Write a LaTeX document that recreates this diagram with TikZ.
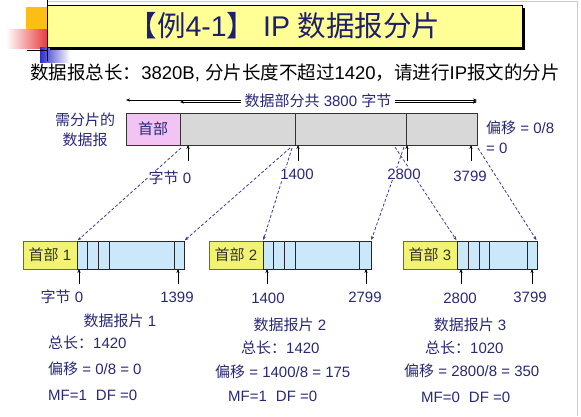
\documentclass[tikz,border=0pt]{standalone}
\usepackage{fontspec}
\setmainfont{Liberation Sans}
\newfontfamily\cjkfont{Noto Sans CJK SC}
\newcommand\zh[1]{{\cjkfont #1}}
\usepackage{tikz}
\usetikzlibrary{positioning,arrows.meta,shadows}
\definecolor{navy}{RGB}{40,40,120}
\definecolor{titlenavy}{RGB}{30,30,110}
\definecolor{titleyel}{RGB}{255,255,150}
\definecolor{hdrpink}{RGB}{243,196,243}
\definecolor{datagrey}{RGB}{216,216,216}
\definecolor{fragyel}{RGB}{242,242,115}
\definecolor{fragblue}{RGB}{202,232,250}
\definecolor{dashcol}{RGB}{60,60,145}
\definecolor{decoorange}{RGB}{252,190,20}
\definecolor{decored}{RGB}{232,60,60}
\definecolor{decoblue}{RGB}{45,45,200}
\tikzset{
  >={Stealth[length=4pt,width=3.2pt]},
  lbl/.style={font=\fontsize{15}{20}\selectfont,text=navy,inner sep=1pt},
  numlbl/.style={lbl,fill=white},
  titlebox/.style={draw=black,line width=0.8pt,fill=titleyel,minimum width=475pt,
    minimum height=42pt,inner sep=0pt,text=titlenavy,
    font=\fontsize{28.5}{30}\selectfont,
    drop shadow={shadow xshift=3pt,shadow yshift=-3pt,fill=black,opacity=1}},
  hdrbox/.style={draw=black!80,line width=0.6pt,minimum height=32pt,minimum width=54pt,
    inner sep=0pt,outer sep=0pt,font=\fontsize{15}{18}\selectfont,text=navy},
  seg/.style={draw=black!80,line width=0.6pt,fill=datagrey,minimum height=32pt,
    inner sep=0pt,outer sep=0pt,minimum width=#1},
  fhdr/.style={draw=black!60,line width=0.6pt,fill=fragyel,minimum height=28pt,
    minimum width=54pt,inner sep=0pt,outer sep=0pt,font=\fontsize{15}{18}\selectfont,
    text=black!80},
  cell/.style={draw=black!85,line width=0.6pt,fill=fragblue,minimum height=28pt,
    inner sep=0pt,outer sep=0pt,minimum width=#1},
  uparr/.style={->,line width=0.6pt},
  dim/.style={<->,line width=0.6pt},
  spread/.style={->,dashcol,line width=0.8pt,dash pattern=on 3pt off 2pt,shorten >=1pt},
}
\newcommand\flaggap{\hspace{9pt}}
\begin{document}
\begin{tikzpicture}[x=1pt,y=-1pt]
  \useasboundingbox (0,0) rectangle (581,416);
  \draw[black!20,line width=0.8pt] (48,1.5) -- (577,1.5) -- (577,416);
  \fill[decoorange] (26,7) rectangle (47,29);
  \shade[left color=white,right color=decored] (6,29) rectangle (47,48);
  \shade[left color=decoblue,right color=white] (40,47) rectangle (70,62);
  \draw[black,line width=0.8pt] (47,0) -- (47,61);
  \draw[black,line width=0.8pt] (27,50) -- (47,50);
  \node (title) [titlebox] at (284.5,26) {\zh{【例}4-1\zh{】} IP \zh{数据报分片}};
  \node (task) [font=\fontsize{18.5}{20}\selectfont] at (295,73)
    {\zh{数据报总长：}3820B, \zh{分片长度不超过}1420\zh{，请进行}IP\zh{报文的分片}};

  \node (hdr) [hdrbox,fill=hdrpink] at (153,129) {\zh{首部}};
  \node (seg1) [seg=115pt,right=0pt of hdr] {};
  \node (seg2) [seg=111pt,right=0pt of seg1] {};
  \node (seg3) [seg=71pt,right=0pt of seg2] {};
  \node (need) [lbl,align=center] at (85,130) {\zh{需分片的}\\\zh{数据报}};
  \node (off0) [lbl,align=left,anchor=west] at (485,137) {\zh{偏移} = 0/8\\= 0};

  \draw[dim] ([yshift=13pt]hdr.north west) -- ([yshift=13pt]seg3.north east);
  \draw[dim] ([yshift=11pt]seg1.north west) -- ([yshift=11pt]seg3.north east);
  \node (span) [lbl,fill=white,inner xsep=4pt] at (318,101) {\zh{数据部分共} 3800 \zh{字节}};

  \node (hdr1) [fhdr] at (50,255) {\zh{首部} 1};
  \node (f1c1) [cell=10pt,right=0pt of hdr1] {};
  \node (f1c2) [cell=11pt,right=0pt of f1c1] {};
  \node (f1c3) [cell=11pt,right=0pt of f1c2] {};
  \node (f1c4) [cell=65pt,right=0pt of f1c3] {};
  \node (f1c5) [cell=10pt,right=0pt of f1c4] {};

  \node (hdr2) [fhdr] at (236,255) {\zh{首部} 2};
  \node (f2c1) [cell=10pt,right=0pt of hdr2] {};
  \node (f2c2) [cell=11pt,right=0pt of f2c1] {};
  \node (f2c3) [cell=11pt,right=0pt of f2c2] {};
  \node (f2c4) [cell=64pt,right=0pt of f2c3] {};
  \node (f2c5) [cell=12pt,right=0pt of f2c4] {};

  \node (hdr3) [fhdr] at (430,255) {\zh{首部} 3};
  \node (f3c1) [cell=11pt,right=0pt of hdr3] {};
  \node (f3c2) [cell=11pt,right=0pt of f3c1] {};
  \node (f3c3) [cell=10pt,right=0pt of f3c2] {};
  \node (f3c4) [cell=38pt,right=0pt of f3c3] {};
  \node (f3c5) [cell=10pt,right=0pt of f3c4] {};

  \draw[spread] ([xshift=1pt,yshift=-3pt]seg1.south west) -- (f1c1.north west);
  \draw[spread] ([xshift=-5pt,yshift=-3pt]seg2.south west) -- (f1c5.north east);
  \draw[spread] ([xshift=-3pt,yshift=-3pt]seg2.south west) -- (f2c1.north west);
  \draw[spread] ([xshift=-2pt,yshift=-2pt]seg3.south west) -- (f2c5.north east);
  \draw[spread] ([xshift=-11pt,yshift=-2pt]seg3.south west) -- (f3c1.north west);
  \draw[spread] ([xshift=1pt,yshift=-3pt]seg3.south east) -- (f3c5.north east);

  \coordinate (t0) at (188,161);
  \coordinate (t1400) at (298,161);
  \coordinate (t2800) at (407,161);
  \coordinate (t3799) at (471,161);
  \foreach \t in {t0,t1400,t2800,t3799}
    \draw[uparr] (\t) -- (\t |- hdr.south);
  \node (b0) [numlbl] at (170,178) {\zh{字节} 0};
  \node (b1400) [numlbl] at (297,174) {1400};
  \node (b2800) [numlbl] at (404,174) {2800};
  \node (b3799) [numlbl] at (470,176) {3799};

  \coordinate (u1a) at (79,284);
  \coordinate (u1b) at (178,284);
  \coordinate (u2a) at (267,284);
  \coordinate (u2b) at (366,284);
  \coordinate (u3a) at (461,284);
  \coordinate (u3b) at (532,284);
  \foreach \u in {u1a,u1b,u2a,u2b,u3a,u3b}
    \draw[uparr] (\u) -- (\u |- hdr1.south);
  \node (c0) [lbl] at (62,297) {\zh{字节} 0};
  \node (c1399) [lbl] at (177,297) {1399};
  \node (c1400) [lbl] at (268,298) {1400};
  \node (c2799) [lbl] at (365,297) {2799};
  \node (c2800) [lbl] at (460,298) {2800};
  \node (c3799) [lbl] at (530,297) {3799};

  \node (cap1) [lbl] at (120,321) {\zh{数据报片} 1};
  \node (len1) [lbl,anchor=west] at (47,343) {\zh{总长：}1420};
  \node (ofs1) [lbl,anchor=west] at (47,369) {\zh{偏移} = 0/8 = 0};
  \node (flg1) [lbl,anchor=west] at (47,395) {MF=1\flaggap DF =0};

  \node (cap2) [lbl] at (290,325) {\zh{数据报片} 2};
  \node (len2) [lbl,anchor=west] at (240,348) {\zh{总长：}1420};
  \node (ofs2) [lbl,anchor=west] at (214,372) {\zh{偏移} = 1400/8 = 175};
  \node (flg2) [lbl,anchor=west] at (227,396) {MF=1\flaggap DF =0};

  \node (cap3) [lbl] at (470,325) {\zh{数据报片} 3};
  \node (len3) [lbl,anchor=west] at (424,348) {\zh{总长：}1020};
  \node (ofs3) [lbl,anchor=west] at (403,371) {\zh{偏移} = 2800/8 = 350};
  \node (flg3) [lbl,anchor=west] at (420,397) {MF=0\flaggap DF =0};
\end{tikzpicture}
\end{document}
